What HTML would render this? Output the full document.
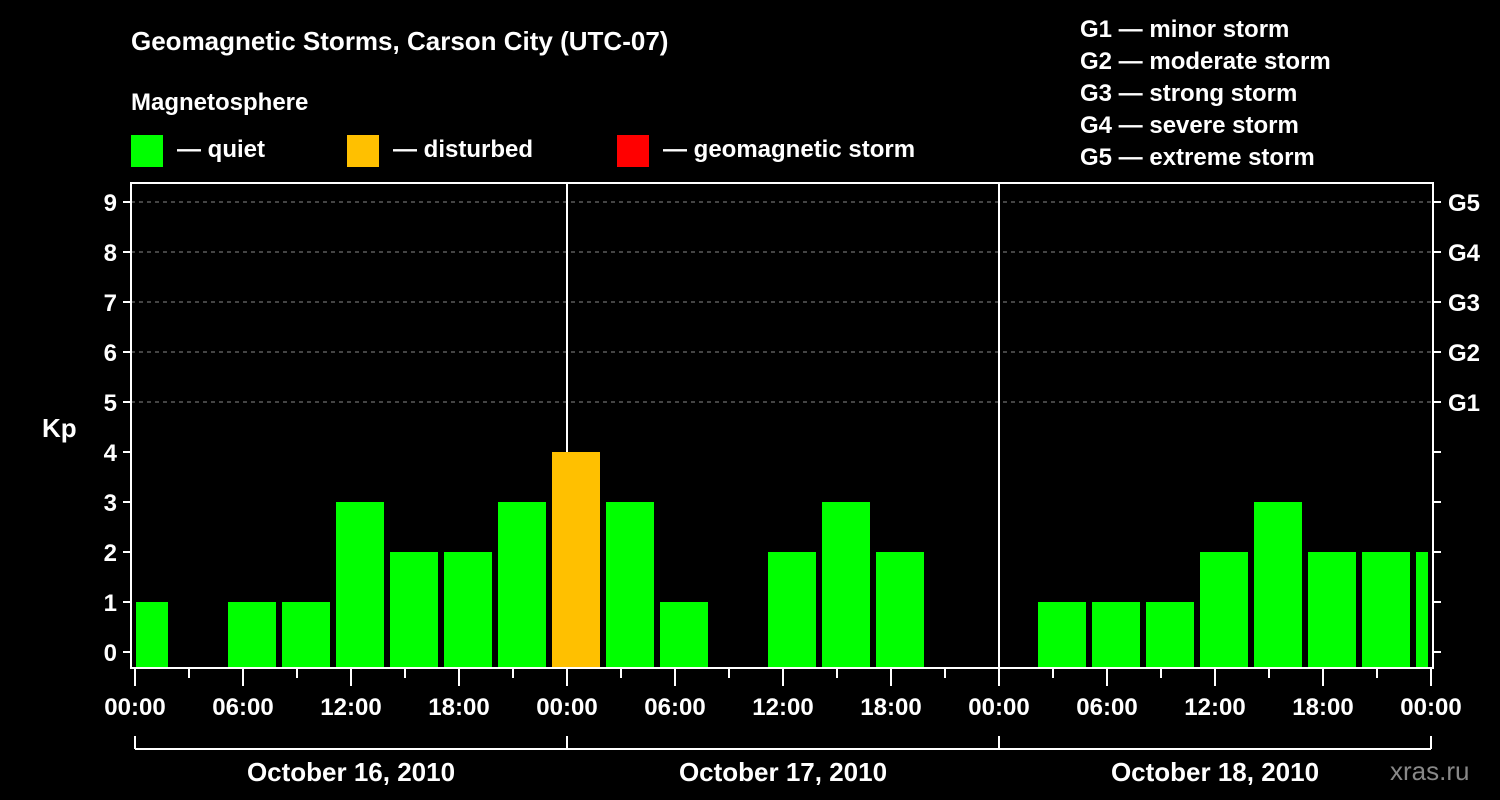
<!DOCTYPE html>
<html><head><meta charset="utf-8"><style>
html,body{margin:0;padding:0;background:#000;}
svg{display:block;font-family:"Liberation Sans",sans-serif;font-weight:bold;}
</style></head><body>
<svg id="chart" width="1500" height="800" viewBox="0 0 1500 800">
<rect x="0" y="0" width="1500" height="800" fill="#000"/>
<text x="131" y="50" fill="#fff" font-size="26">Geomagnetic Storms, Carson City (UTC-07)</text>
<text x="131" y="110" fill="#fff" font-size="24">Magnetosphere</text>
<g><rect x="131" y="135" width="32" height="32" fill="#00ff00"/><text x="177" y="157" fill="#fff" font-size="24">— quiet</text></g>
<g><rect x="347" y="135" width="32" height="32" fill="#ffc000"/><text x="393" y="157" fill="#fff" font-size="24">— disturbed</text></g>
<g><rect x="617" y="135" width="32" height="32" fill="#ff0000"/><text x="663" y="157" fill="#fff" font-size="24">— geomagnetic storm</text></g>
<g font-size="24" fill="#fff">
<text x="1080" y="37">G1 — minor storm</text>
<text x="1080" y="69">G2 — moderate storm</text>
<text x="1080" y="101">G3 — strong storm</text>
<text x="1080" y="133">G4 — severe storm</text>
<text x="1080" y="165">G5 — extreme storm</text>
</g>
<text x="42" y="437" fill="#fff" font-size="26">Kp</text>
<text x="1390" y="780" fill="#888" font-size="26" font-weight="normal">xras.ru</text>
<g id="grid"></g><g id="bars"></g><g id="axes"></g>
</svg>
<script>
const kpValues=[1,0,1,1,3,2,2,3,4,3,1,0,2,3,2,0,0,1,1,1,2,3,2,2,2];
const yTickLabels=["0","1","2","3","4","5","6","7","8","9"];
const gLabels=["G1","G2","G3","G4","G5"];
const xTickLabels=["00:00","06:00","12:00","18:00","00:00","06:00","12:00","18:00","00:00","06:00","12:00","18:00","00:00"];
const dayLabels=["October 16, 2010","October 17, 2010","October 18, 2010"];
const NS="http://www.w3.org/2000/svg";
const X0=135,PXH=18,PL=131,PR=1433,PT=183,PB=668;
const xs=h=>X0+h*PXH;
const ys=v=>652-v*50;
function mk(tag,attrs,parent,txt){const e=document.createElementNS(NS,tag);for(const k in attrs)e.setAttribute(k,attrs[k]);if(txt!==undefined)e.textContent=txt;parent.appendChild(e);return e;}
const grid=document.getElementById('grid'),bars=document.getElementById('bars'),axes=document.getElementById('axes');
for(let v=5;v<=9;v++){const l=mk('line',{x1:PL,x2:PR,y1:ys(v),y2:ys(v),stroke:'#888','stroke-width':1,'stroke-dasharray':'4,4'},grid);

}
for(let d=1;d<=2;d++){const l=mk('line',{x1:xs(24*d),x2:xs(24*d),y1:PT,y2:PB,stroke:'#fff','stroke-width':2},grid);

}
kpValues.forEach((v,i)=>{if(v<=0)return;
let a=xs(-1+3*i)+3,b=xs(2+3*i)-3;a=Math.max(a,X0+1);b=Math.min(b,PR-5);
const col=v>=5?'#ff0000':(v>=4?'#ffc000':'#00ff00');
const r=mk('rect',{x:a,y:ys(v),width:b-a,height:PB-1-ys(v),fill:col},bars);

});
const frame=mk('rect',{x:PL,y:PT,width:PR-PL,height:PB-PT,fill:'none',stroke:'#fff','stroke-width':2},axes);


yTickLabels.forEach((t,v)=>{mk('line',{x1:PL-8,x2:PL,y1:ys(v),y2:ys(v),stroke:'#fff','stroke-width':2},axes);
mk('line',{x1:PR,x2:PR+8,y1:ys(v),y2:ys(v),stroke:'#fff','stroke-width':2},axes);
const e=mk('text',{x:PL-14,y:ys(v)+9,fill:'#fff','font-size':24,'text-anchor':'end'},axes,t);

});
gLabels.forEach((t,i)=>{const e=mk('text',{x:1448,y:ys(5+i)+9,fill:'#fff','font-size':24},axes,t);

});
for(let h=0;h<=72;h+=3){const major=h%6===0;mk('line',{x1:xs(h),x2:xs(h),y1:PB,y2:PB+(major?18:10),stroke:'#fff','stroke-width':2},axes);}
xTickLabels.forEach((t,i)=>{const e=mk('text',{x:xs(6*i),y:715,fill:'#fff','font-size':24,'text-anchor':'middle'},axes,t);

});
mk('line',{x1:xs(0),x2:xs(72),y1:749,y2:749,stroke:'#fff','stroke-width':2},axes);
for(let d=0;d<=3;d++)mk('line',{x1:xs(24*d),x2:xs(24*d),y1:736,y2:749,stroke:'#fff','stroke-width':2},axes);
dayLabels.forEach((t,d)=>{const e=mk('text',{x:xs(24*d+12),y:781,fill:'#fff','font-size':26,'text-anchor':'middle'},axes,t);

});
</script>
</body></html>
